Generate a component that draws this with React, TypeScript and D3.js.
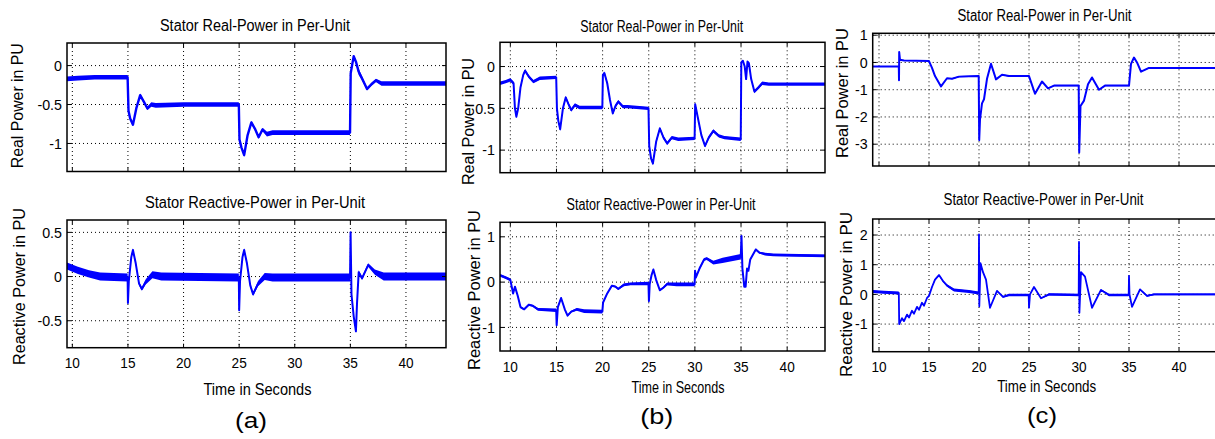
import React from 'react';
import * as d3 from 'd3';

// [time s, value PU, ripple half-width PU]
type Pt = [number, number, number];

const timeTicks = [10, 15, 20, 25, 30, 35, 40];
const timeTickLabels = ['10', '15', '20', '25', '30', '35', '40'];

const aRealTicks = [-1, -0.5, 0];
const aRealTickLabels = ['-1', '-0.5', '0'];
const aReactTicks = [-0.5, 0, 0.5];
const aReactTickLabels = ['-0.5', '0', '0.5'];
const bRealTicks = [-1, -0.5, 0];
const bRealTickLabels = ['-1', '0.5', '0'];
const bReactTicks = [-1, 0, 1];
const bReactTickLabels = ['-1', '0', '1'];
const cRealTicks = [-3, -2, -1, 0, 1];
const cRealTickLabels = ['-3', '-2', '-1', '0', '1'];
const cReactTicks = [-1, 0, 1, 2];
const cReactTickLabels = ['-1', '0', '1', '2'];

const aReal: Pt[] = [
  [9.5, -0.17, 0.03], [10.5, -0.16, 0.03], [12, -0.15, 0.03], [14.97, -0.15, 0.03],
  [15.05, -0.58, 0.02], [15.2, -0.68, 0.02], [15.45, -0.76, 0.02], [15.75, -0.55, 0.02],
  [16.1, -0.38, 0.02], [16.45, -0.47, 0.02], [16.75, -0.55, 0.02], [17.1, -0.5, 0.03],
  [17.5, -0.51, 0.03], [20, -0.5, 0.03], [24.97, -0.5, 0.03],
  [25.03, -0.95, 0.02], [25.2, -1.05, 0.02], [25.45, -1.15, 0.02], [25.75, -0.9, 0.02],
  [26.1, -0.73, 0.02], [26.45, -0.82, 0.02], [26.75, -0.92, 0.02], [27.1, -0.82, 0.02],
  [27.5, -0.88, 0.03], [28, -0.86, 0.03], [34.97, -0.86, 0.03],
  [35.03, -0.1, 0.03], [35.15, 0.0, 0.03], [35.3, 0.12, 0.02], [35.5, 0.05, 0.02],
  [35.75, -0.08, 0.04], [36.0, -0.15, 0.03], [36.5, -0.3, 0.02], [36.9, -0.24, 0.02],
  [37.3, -0.19, 0.02], [37.8, -0.23, 0.03], [43.6, -0.23, 0.03],
];

const aReact: Pt[] = [
  [9.5, 0.12, 0.04], [10.5, 0.07, 0.04], [11.5, 0.03, 0.04], [12.5, 0.0, 0.045], [14.97, -0.01, 0.045],
  [15.0, -0.3, 0.01], [15.08, -0.05, 0.02], [15.3, 0.22, 0.02], [15.45, 0.3, 0.02], [15.7, 0.15, 0.02],
  [16.0, -0.08, 0.02], [16.25, -0.14, 0.02], [16.6, -0.06, 0.03], [17.2, 0.02, 0.04], [18, 0.0, 0.045],
  [24.97, -0.01, 0.045],
  [25.0, -0.38, 0.01], [25.08, -0.05, 0.02], [25.3, 0.22, 0.02], [25.45, 0.3, 0.02], [25.7, 0.15, 0.02],
  [26.0, -0.1, 0.02], [26.25, -0.2, 0.02], [26.7, -0.08, 0.03], [27.3, 0.0, 0.04], [28, -0.01, 0.045],
  [34.97, -0.01, 0.045],
  [35.02, 0.5, 0.01], [35.1, -0.2, 0.01], [35.3, -0.45, 0.01], [35.5, -0.62, 0.01], [35.6, -0.3, 0.01],
  [35.75, 0.05, 0.02], [36.05, -0.02, 0.02], [36.6, 0.13, 0.02], [37.2, 0.05, 0.03], [38, 0.0, 0.045],
  [43.6, 0.0, 0.045],
];

const bReal: Pt[] = [
  [8.9, -0.2, 0.02], [9.5, -0.18, 0.02], [10.0, -0.16, 0.02], [10.35, -0.2, 0.02], [10.5, -0.5, 0.02],
  [10.65, -0.6, 0.02], [10.85, -0.5, 0.02], [11.1, -0.25, 0.02], [11.4, -0.1, 0.02], [11.6, -0.05, 0.02],
  [12.0, -0.12, 0.02], [12.5, -0.18, 0.02], [13.2, -0.14, 0.02], [14.97, -0.13, 0.02],
  [15.05, -0.5, 0.02], [15.2, -0.65, 0.02], [15.4, -0.75, 0.02], [15.7, -0.5, 0.02], [16.0, -0.37, 0.02],
  [16.3, -0.45, 0.02], [16.6, -0.52, 0.02], [17.0, -0.46, 0.02], [17.5, -0.49, 0.02], [19.97, -0.49, 0.02],
  [20.03, -0.1, 0.02], [20.2, -0.08, 0.02], [20.5, -0.2, 0.02], [20.8, -0.4, 0.02], [21.1, -0.56, 0.02],
  [21.4, -0.47, 0.02], [21.7, -0.42, 0.02], [22.2, -0.48, 0.02], [22.7, -0.48, 0.02], [24.97, -0.5, 0.02],
  [25.05, -0.95, 0.02], [25.25, -1.1, 0.02], [25.45, -1.16, 0.02], [25.8, -0.9, 0.02], [26.2, -0.74, 0.02],
  [26.6, -0.85, 0.02], [27.0, -0.92, 0.02], [27.5, -0.85, 0.02], [28.2, -0.87, 0.02], [29.97, -0.86, 0.02],
  [30.03, -0.45, 0.02], [30.3, -0.6, 0.02], [30.7, -0.82, 0.02], [31.1, -0.95, 0.02], [31.5, -0.85, 0.02],
  [32.0, -0.77, 0.02], [32.6, -0.83, 0.02], [33.2, -0.85, 0.02], [34.97, -0.87, 0.02],
  [35.03, 0.05, 0.01], [35.2, 0.07, 0.01], [35.4, 0.0, 0.01], [35.55, -0.15, 0.01], [35.7, 0.06, 0.01],
  [35.85, 0.04, 0.01], [36.1, -0.15, 0.01], [36.45, -0.3, 0.02], [36.9, -0.25, 0.02], [37.3, -0.2, 0.02],
  [38, -0.21, 0.02], [44.1, -0.21, 0.02],
];

const bReact: Pt[] = [
  [8.9, 0.15, 0.03], [9.5, 0.1, 0.03], [10.0, 0.05, 0.03], [10.3, -0.25, 0.02], [10.5, -0.1, 0.02],
  [10.8, -0.3, 0.02], [11.1, -0.55, 0.02], [11.5, -0.6, 0.02], [12.0, -0.5, 0.02], [12.4, -0.52, 0.02],
  [13.0, -0.6, 0.03], [14.97, -0.62, 0.04],
  [15.02, -0.95, 0.02], [15.15, -0.55, 0.02], [15.5, -0.35, 0.02], [15.9, -0.6, 0.02], [16.2, -0.74, 0.02],
  [16.6, -0.65, 0.02], [17.2, -0.6, 0.03], [18.0, -0.64, 0.04], [19.97, -0.65, 0.04],
  [20.05, -0.45, 0.02], [20.5, -0.25, 0.02], [21.0, -0.08, 0.02], [21.4, -0.1, 0.02], [21.7, -0.15, 0.02],
  [22.3, -0.06, 0.03], [23.0, -0.04, 0.03], [24.97, -0.03, 0.04],
  [25.02, -0.42, 0.02], [25.1, -0.05, 0.02], [25.3, 0.15, 0.02], [25.5, 0.28, 0.02], [25.8, 0.05, 0.02],
  [26.2, -0.18, 0.02], [26.6, -0.12, 0.02], [27.0, -0.04, 0.03], [28.0, -0.05, 0.04], [29.97, -0.05, 0.04],
  [30.02, 0.25, 0.02], [30.1, 0.1, 0.02], [30.5, 0.3, 0.03], [31.0, 0.5, 0.03], [31.3, 0.52, 0.03],
  [32.0, 0.43, 0.04], [33.0, 0.48, 0.06], [34.97, 0.56, 0.06],
  [35.05, 1.02, 0.01], [35.15, 0.3, 0.01], [35.35, -0.1, 0.01], [35.5, -0.1, 0.01], [35.65, 0.3, 0.01],
  [35.8, 0.25, 0.01], [36.0, 0.5, 0.02], [36.6, 0.72, 0.02], [37.0, 0.65, 0.02], [37.6, 0.62, 0.03],
  [38.5, 0.6, 0.03], [44.1, 0.58, 0.03],
];

const cReal: Pt[] = [
  [9.37, -0.15, 0.02], [11.98, -0.15, 0.02], [12.0, -0.65, 0], [12.02, 0.38, 0], [12.1, 0.1, 0.01],
  [12.5, 0.07, 0.01], [15.0, 0.05, 0.01], [15.3, -0.2, 0.01], [15.6, -0.5, 0.01], [16.2, -0.88, 0.01],
  [16.8, -0.58, 0.01], [17.3, -0.6, 0.02], [18.0, -0.52, 0.02], [19.97, -0.5, 0.02],
  [20.02, -2.85, 0], [20.1, -2.1, 0], [20.3, -1.5, 0.01], [20.5, -1.35, 0.01], [20.8, -0.6, 0.01],
  [21.2, -0.05, 0.01], [21.7, -0.62, 0.01], [22.3, -0.45, 0.02], [23.0, -0.5, 0.02], [25.0, -0.5, 0.02],
  [25.6, -1.15, 0.01], [26.3, -0.7, 0.01], [26.9, -0.95, 0.01], [27.5, -0.85, 0.02], [29.97, -0.85, 0.02],
  [30.02, -3.3, 0], [30.15, -1.6, 0.01], [30.5, -1.4, 0.01], [30.9, -0.8, 0.01], [31.3, -0.55, 0.01],
  [32.0, -1.0, 0.01], [32.6, -0.85, 0.02], [35.0, -0.85, 0.02],
  [35.2, -0.05, 0.01], [35.5, 0.18, 0.01], [35.8, 0.0, 0.01], [36.2, -0.34, 0.01], [37.0, -0.2, 0.02],
  [44.2, -0.2, 0.02],
];

const cReact: Pt[] = [
  [9.37, 0.1, 0.05], [10.5, 0.07, 0.05], [11.98, 0.05, 0.05],
  [12.02, -1.0, 0.01], [12.3, -0.8, 0.01], [12.5, -0.9, 0.01], [12.8, -0.68, 0.01], [13.0, -0.78, 0.01],
  [13.3, -0.55, 0.01], [13.5, -0.65, 0.01], [13.8, -0.42, 0.01], [14.0, -0.52, 0.01], [14.3, -0.28, 0.01],
  [14.5, -0.38, 0.01], [14.8, -0.12, 0.01], [15.0, -0.05, 0.02], [15.3, 0.25, 0.03], [15.6, 0.5, 0.03],
  [16.0, 0.65, 0.03], [16.4, 0.45, 0.03], [16.8, 0.3, 0.04], [17.5, 0.15, 0.05], [19.0, 0.1, 0.05],
  [19.97, 0.05, 0.05],
  [20.0, 2.02, 0], [20.03, -0.4, 0], [20.15, 1.05, 0], [20.4, 0.75, 0.01], [20.7, 0.5, 0.01],
  [21.1, -0.45, 0.01], [21.8, 0.12, 0.01], [22.4, -0.08, 0.03], [23.0, -0.02, 0.04], [24.97, -0.02, 0.04],
  [25.0, -0.45, 0], [25.1, 0.0, 0.01], [25.5, 0.25, 0.01], [26.2, -0.13, 0.02], [27.0, 0.0, 0.04],
  [29.97, -0.02, 0.04],
  [30.0, 1.77, 0], [30.04, -0.62, 0], [30.2, 0.75, 0.01], [30.6, 0.6, 0.01], [31.3, -0.45, 0.01],
  [32.2, 0.15, 0.02], [33.0, -0.02, 0.04], [34.97, -0.02, 0.04],
  [35.0, 0.62, 0], [35.05, 0.0, 0], [35.3, -0.42, 0.01], [36.1, 0.17, 0.02], [36.8, -0.05, 0.03],
  [37.5, 0.0, 0.03], [44.2, 0.0, 0.03],
];

const FONT = 'Liberation Sans, Arial, Helvetica, sans-serif';

const panels = [
  { id: 'a1', left: 67, right: 446, top: 43, bottom: 171.5, xDomain: [9.52, 43.6], yDomain: [-1.36, 0.29],
    yTicks: aRealTicks, yLabels: aRealTickLabels, data: aReal, lw: 2.4, xLab: false,
    title: 'Stator Real-Power in Per-Unit', tx: 255, ty: 31, tw: 190,
    ylab: 'Real Power in PU', yx: 17.5, yy: 105.7, yw: 125 },
  { id: 'a2', left: 67, right: 446, top: 220, bottom: 347.7, xDomain: [9.52, 43.6], yDomain: [-0.805, 0.64],
    yTicks: aReactTicks, yLabels: aReactTickLabels, data: aReact, lw: 2, xLab: true,
    title: 'Stator Reactive-Power in Per-Unit', tx: 255, ty: 208.3, tw: 220,
    ylab: 'Reactive Power in PU', yx: 19.7, yy: 286.5, yw: 157,
    xl: 257.5, xlY: 395, xlW: 108 },
  { id: 'b1', left: 500, right: 825, top: 42.3, bottom: 172.7, xDomain: [8.88, 44.1], yDomain: [-1.27, 0.29],
    yTicks: bRealTicks, yLabels: bRealTickLabels, data: bReal, lw: 2, xLab: false,
    title: 'Stator Real-Power in Per-Unit', tx: 661.7, ty: 32.3, tw: 163,
    ylab: 'Real Power in PU', yx: 468, yy: 121.5, yw: 127 },
  { id: 'b2', left: 500, right: 825, top: 222.3, bottom: 351, xDomain: [8.88, 44.1], yDomain: [-1.52, 1.32],
    yTicks: bReactTicks, yLabels: bReactTickLabels, data: bReact, lw: 2, xLab: true,
    title: 'Stator Reactive-Power in Per-Unit', tx: 661, ty: 210, tw: 189,
    ylab: 'Reactive Power in PU', yx: 474, yy: 290, yw: 160,
    xl: 678, xlY: 393, xlW: 93 },
  { id: 'c1', left: 872.7, right: 1221, top: 33.3, bottom: 166, xDomain: [9.37, 44.2], yDomain: [-3.8, 1.07],
    yTicks: cRealTicks, yLabels: cRealTickLabels, data: cReal, lw: 2, xLab: false,
    title: 'Stator Real-Power in Per-Unit', tx: 1044.5, ty: 20.7, tw: 174,
    ylab: 'Real Power in PU', yx: 842, yy: 93, yw: 130 },
  { id: 'c2', left: 872.7, right: 1221, top: 219, bottom: 351.7, xDomain: [9.37, 44.2], yDomain: [-1.93, 2.54],
    yTicks: cReactTicks, yLabels: cReactTickLabels, data: cReact, lw: 1.8, xLab: true,
    title: 'Stator Reactive-Power in Per-Unit', tx: 1043.5, ty: 205, tw: 200,
    ylab: 'Reactive Power in PU', yx: 846, yy: 294.5, yw: 165,
    xl: 1046.7, xlY: 392, xlW: 99 },
];

const captions = [
  { text: '(a)', x: 251, y: 428, w: 32 },
  { text: '(b)', x: 656.7, y: 423.5, w: 33 },
  { text: '(c)', x: 1042, y: 422.5, w: 30 },
];

function Panel({ p }: { p: any }) {
  const x = d3.scaleLinear().domain(p.xDomain).range([p.left, p.right]);
  const y = d3.scaleLinear().domain(p.yDomain).range([p.bottom, p.top]);
  const line = d3.line<Pt>().x(d => x(d[0])).y(d => y(d[1]));
  const band = d3.area<Pt>().x(d => x(d[0])).y0(d => y(d[1] - d[2])).y1(d => y(d[1] + d[2]));
  const tickLen = 4;
  return (
    <g>
      <defs>
        <clipPath id={`clip-${p.id}`}>
          <rect x={p.left} y={p.top} width={p.right - p.left} height={p.bottom - p.top} />
        </clipPath>
      </defs>
      <rect x={p.left} y={p.top} width={p.right - p.left} height={p.bottom - p.top} fill="#fff" />
      {/* dotted grid */}
      <g stroke="#000" strokeWidth={1} strokeDasharray="1,3">
        {timeTicks.map(t => (
          <line key={'gx' + t} x1={x(t)} x2={x(t)} y1={p.top} y2={p.bottom} />
        ))}
        {p.yTicks.map((v: number) => (
          <line key={'gy' + v} x1={p.left} x2={p.right} y1={y(v)} y2={y(v)} />
        ))}
      </g>
      <g clipPath={`url(#clip-${p.id})`}>
        <path d={band(p.data) || ''} fill="#0000ff" />
        <path d={line(p.data) || ''} fill="none" stroke="#0000ff" strokeWidth={p.lw} strokeLinejoin="round" />
      </g>
      {/* inward ticks */}
      <g stroke="#000" strokeWidth={1}>
        {timeTicks.map(t => (
          <g key={'tx' + t}>
            <line x1={x(t)} x2={x(t)} y1={p.bottom} y2={p.bottom - tickLen} />
            <line x1={x(t)} x2={x(t)} y1={p.top} y2={p.top + tickLen} />
          </g>
        ))}
        {p.yTicks.map((v: number) => (
          <g key={'ty' + v}>
            <line x1={p.left} x2={p.left + tickLen} y1={y(v)} y2={y(v)} />
            <line x1={p.right} x2={p.right - tickLen} y1={y(v)} y2={y(v)} />
          </g>
        ))}
      </g>
      <rect x={p.left} y={p.top} width={p.right - p.left} height={p.bottom - p.top}
        fill="none" stroke="#000" strokeWidth={1.5} />
      {/* tick labels */}
      <g fontFamily={FONT} fontSize={15.5} fill="#000">
        {p.yTicks.map((v: number, i: number) => (
          <text key={'ly' + v} transform={`translate(${p.left - 5},${y(v)}) scale(0.92,1)`}
            textAnchor="end" dominantBaseline="central">{p.yLabels[i]}</text>
        ))}
        {p.xLab && timeTicks.map((t, i) => (
          <text key={'lx' + t} transform={`translate(${x(t)},${p.bottom + 20.5}) scale(0.88,1)`}
            textAnchor="middle">{timeTickLabels[i]}</text>
        ))}
      </g>
      <text x={p.tx} y={p.ty} fontFamily={FONT} fontSize={16} textAnchor="middle"
        textLength={p.tw} lengthAdjust="spacingAndGlyphs">{p.title}</text>
      <text transform={`translate(${p.yx + 5.6},${p.yy}) rotate(-90)`} fontFamily={FONT} fontSize={16}
        textAnchor="middle" textLength={p.yw} lengthAdjust="spacingAndGlyphs">{p.ylab}</text>
      {p.xLab && (
        <text x={p.xl} y={p.xlY} fontFamily={FONT} fontSize={17} textAnchor="middle"
          textLength={p.xlW} lengthAdjust="spacingAndGlyphs">Time in Seconds</text>
      )}
    </g>
  );
}

export default function App() {
  return (
    <svg width={1215} height={439} viewBox="0 0 1215 439"
      style={{ position: 'absolute', left: 0, top: 0, background: '#fff' }}>
      {panels.map(p => <Panel key={p.id} p={p} />)}
      {captions.map(c => (
        <text key={c.text} x={c.x} y={c.y} fontFamily={FONT} fontSize={22} textAnchor="middle"
          textLength={c.w} lengthAdjust="spacingAndGlyphs">{c.text}</text>
      ))}
    </svg>
  );
}
